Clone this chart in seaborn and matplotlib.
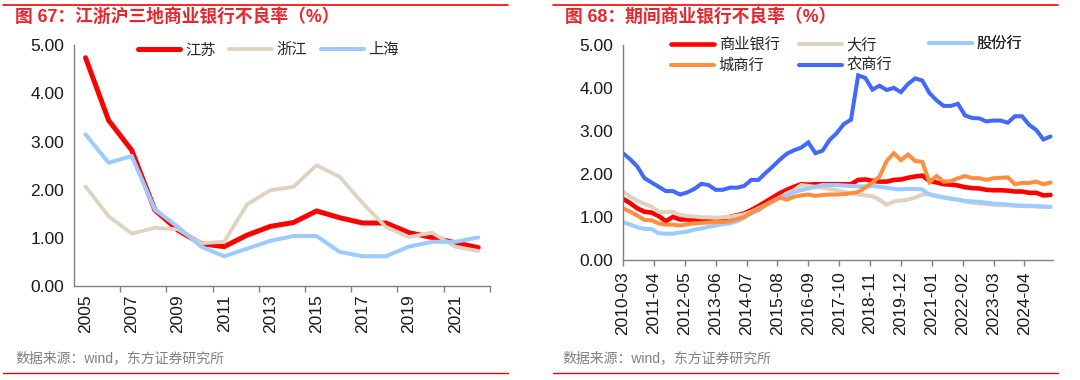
import numpy as np
import pandas as pd
import matplotlib
matplotlib.use("Agg")
import matplotlib.pyplot as plt
from matplotlib.lines import Line2D
import seaborn as sns

# ---------------- data: left chart ----------------
years = [str(y) for y in range(2005, 2023)]
jiangsu = [4.74, 3.44, 2.82, 1.58, 1.16, 0.88, 0.82, 1.06, 1.24, 1.32, 1.56, 1.42, 1.31, 1.31, 1.11, 1.01, 0.90, 0.80]
zhejiang = [2.07, 1.45, 1.09, 1.21, 1.18, 0.89, 0.92, 1.70, 1.99, 2.06, 2.51, 2.27, 1.72, 1.23, 1.02, 1.11, 0.82, 0.73]
shanghai = [3.15, 2.56, 2.70, 1.59, 1.23, 0.82, 0.62, 0.78, 0.94, 1.04, 1.04, 0.71, 0.62, 0.62, 0.82, 0.92, 0.92, 1.01]
left_names = ["江苏", "浙江", "上海"]

# ---------------- data: right chart (quarterly 2010Q1 - 2025Q1) ----------------
quarters = pd.period_range("2010Q1", "2025Q1", freq="Q")
commercial = [1.42, 1.32, 1.20, 1.12, 1.10, 1.02, 0.90, 1.00, 0.94, 0.94, 0.93, 0.93, 0.93, 0.94, 0.96, 1.00,
              1.04, 1.08, 1.16, 1.25, 1.35, 1.45, 1.55, 1.63, 1.70, 1.76, 1.75, 1.76, 1.76, 1.76, 1.76, 1.76,
              1.76, 1.86, 1.87, 1.84, 1.82, 1.82, 1.86, 1.87, 1.91, 1.94, 1.96, 1.84, 1.80, 1.76, 1.75, 1.73,
              1.69, 1.67, 1.66, 1.63, 1.62, 1.62, 1.61, 1.59, 1.59, 1.56, 1.56, 1.50, 1.51]
big = [1.59, 1.47, 1.38, 1.30, 1.24, 1.12, 1.11, 1.12, 1.05, 1.02, 1.01, 0.99, 0.99, 0.98, 0.99, 1.00,
       1.03, 1.06, 1.12, 1.20, 1.28, 1.37, 1.45, 1.55, 1.62, 1.74, 1.72, 1.70, 1.68, 1.65, 1.62, 1.58,
       1.55, 1.52, 1.50, 1.48, 1.40, 1.28, 1.36, 1.38, 1.40, 1.45, 1.52, 1.53, 1.50, 1.46, 1.44, 1.40,
       1.36, 1.33, 1.31, 1.30, 1.28, 1.27, 1.27, 1.26, 1.25, 1.25, 1.24, 1.24, 1.23]
joint = [0.88, 0.82, 0.76, 0.72, 0.72, 0.62, 0.61, 0.61, 0.64, 0.66, 0.70, 0.73, 0.77, 0.80, 0.83, 0.85,
         0.90, 0.98, 1.08, 1.15, 1.26, 1.36, 1.45, 1.50, 1.58, 1.62, 1.66, 1.70, 1.74, 1.74, 1.74, 1.73,
         1.72, 1.71, 1.71, 1.72, 1.70, 1.68, 1.65, 1.64, 1.65, 1.65, 1.64, 1.52, 1.48, 1.45, 1.42, 1.40,
         1.37, 1.36, 1.35, 1.33, 1.31, 1.30, 1.29, 1.27, 1.26, 1.26, 1.25, 1.24, 1.23]
city = [1.20, 1.12, 1.03, 0.93, 0.92, 0.85, 0.82, 0.82, 0.80, 0.83, 0.85, 0.86, 0.87, 0.88, 0.88, 0.90,
        0.95, 1.00, 1.10, 1.18, 1.28, 1.36, 1.45, 1.40, 1.47, 1.50, 1.52, 1.49, 1.51, 1.52, 1.52, 1.53,
        1.55, 1.58, 1.68, 1.80, 1.94, 2.30, 2.48, 2.32, 2.45, 2.30, 2.28, 1.81, 1.95, 1.82, 1.83, 1.90,
        1.95, 1.90, 1.90, 1.86, 1.90, 1.91, 1.92, 1.76, 1.79, 1.79, 1.82, 1.76, 1.80]
rural = [2.48, 2.34, 2.17, 1.90, 1.80, 1.70, 1.60, 1.60, 1.52, 1.57, 1.65, 1.77, 1.74, 1.63, 1.63, 1.68,
         1.68, 1.72, 1.86, 1.86, 2.02, 2.17, 2.33, 2.47, 2.55, 2.61, 2.73, 2.48, 2.54, 2.79, 2.95, 3.16,
         3.26, 4.29, 4.23, 3.96, 4.05, 3.95, 4.00, 3.90, 4.09, 4.22, 4.17, 3.88, 3.71, 3.58, 3.58, 3.63,
         3.36, 3.30, 3.29, 3.22, 3.24, 3.24, 3.19, 3.34, 3.34, 3.14, 3.02, 2.80, 2.87]
right_names = ["商业银行", "大行", "股份行", "城商行", "农商行"]
right_xticklabels = ["2010-03", "2011-04", "2012-05", "2013-06", "2014-07", "2015-08", "2016-09",
                     "2017-10", "2018-11", "2019-12", "2021-01", "2022-02", "2023-03", "2024-04"]

yticks = [0, 1, 2, 3, 4, 5]

# ---------------- style ----------------
sns.set_theme(style="white")
plt.rcParams["font.family"] = ["Liberation Sans", "Noto Sans CJK SC", "DejaVu Sans"]
plt.rcParams["axes.unicode_minus"] = False

RED = "#FF0000"
TAN = "#DDD3BE"
LBLUE = "#9DCBFF"
ORANGE = "#FF8F3F"
BLUE = "#4169FF"
AXC = "#808080"
TITLE_C = "#E8262B"

fig = plt.figure(figsize=(10.8, 3.8), dpi=100)


def style_axis(ax):
    for s in ["top", "right"]:
        ax.spines[s].set_visible(False)
    for s in ["left", "bottom"]:
        ax.spines[s].set_color(AXC)
        ax.spines[s].set_linewidth(1.0)
    ax.set_ylim(0, 5)
    ax.set_yticks(yticks)
    ax.set_yticklabels([f"{v:.2f}" for v in yticks], fontsize=12.5, color="#1a1a1a")
    ax.tick_params(axis="y", which="major", direction="out", length=4, width=1, color=AXC, pad=3)
    ax.set_xlabel("")
    ax.set_ylabel("")
    ax.grid(False)


# ---------------- left chart ----------------
ax1 = fig.add_axes([0.0685, 0.247, 0.385, 0.634])
xl = np.arange(len(years))
left_df = pd.DataFrame({"x": np.tile(xl, 3),
                        "v": jiangsu + zhejiang + shanghai,
                        "s": np.repeat(left_names, len(years))})
for name, color, lw in zip(left_names, [RED, TAN, LBLUE], [3.6, 2.7, 2.9]):
    d = left_df[left_df["s"] == name]
    sns.lineplot(data=d, x="x", y="v", color=color, linewidth=lw, label=name, ax=ax1,
                 solid_joinstyle="miter")
style_axis(ax1)
ax1.set_xlim(-0.5, len(years) - 0.5)
ax1.set_xticks(xl[::2])
ax1.set_xticklabels(years[::2], rotation=90, fontsize=12.5, color="#1a1a1a")
ax1.set_xticks(np.arange(1.5, len(years), 2), minor=True)
ax1.tick_params(axis="x", which="major", length=0, pad=6)
ax1.tick_params(axis="x", which="minor", direction="out", length=4, width=1, color=AXC, bottom=True)
h, l = ax1.get_legend_handles_labels()
ax1.legend(h, l, ncol=3, frameon=False, loc="upper left", bbox_to_anchor=(0.12, 1.065),
           handlelength=2.8, handletextpad=0.3, columnspacing=0.9, fontsize=11)

# ---------------- right chart ----------------
ax2 = fig.add_axes([0.5769, 0.316, 0.398, 0.566])
base = pd.Period("2010-03", freq="M")
xm = np.array([(q.asfreq("M", how="end") - base).n for q in quarters])
right_df = pd.DataFrame({"x": np.tile(xm, 5),
                         "v": commercial + big + joint + city + rural,
                         "s": np.repeat(right_names, len(quarters))})
for name, color, lw in zip(right_names, [RED, TAN, LBLUE, ORANGE, BLUE], [3.3, 2.9, 2.9, 2.9, 2.9]):
    d = right_df[right_df["s"] == name]
    sns.lineplot(data=d, x="x", y="v", color=color, linewidth=lw, label=name, ax=ax2,
                 solid_joinstyle="miter")
style_axis(ax2)
tick_pos = [(pd.Period(t, freq="M") - base).n for t in right_xticklabels]
ax2.set_xlim(0, xm[-1] + 1)
ax2.set_xticks(tick_pos)
ax2.set_xticklabels(right_xticklabels, rotation=90, fontsize=12.5, color="#1a1a1a")
ax2.tick_params(axis="x", which="major", direction="out", length=4, width=1, color=AXC, bottom=True, pad=4)
h, l = ax2.get_legend_handles_labels()
hd = dict(zip(l, h))
# three equal-width legend columns, filled row by row
col_groups = [["商业银行", "城商行"], ["大行", "农商行"], ["股份行"]]
col_x = [0.105, 0.403, 0.705]
for names, cx in zip(col_groups, col_x):
    lg = ax2.legend([hd[n] for n in names], names, ncol=1, frameon=False, loc="upper left",
                    bbox_to_anchor=(cx, 1.048), handlelength=2.8, handletextpad=0.3,
                    labelspacing=0.45, fontsize=11, borderaxespad=0, borderpad=0.2)
    ax2.add_artist(lg)

# ---------------- titles, sources, rules ----------------
fig.text(0.014, 0.955, "图 67：江浙沪三地商业银行不良率（%）", color=TITLE_C, fontsize=12.8,
         fontweight="bold", va="center", ha="left")
fig.text(0.523, 0.955, "图 68：期间商业银行不良率（%）", color=TITLE_C, fontsize=12.8,
         fontweight="bold", va="center", ha="left")
fig.text(0.014, 0.058, "数据来源：wind，东方证券研究所", color="#808080", fontsize=10, va="center", ha="left")
fig.text(0.521, 0.058, "数据来源：wind，东方证券研究所", color="#808080", fontsize=10, va="center", ha="left")
for x0, x1 in [(0.003, 0.470), (0.512, 0.98)]:
    fig.add_artist(Line2D([x0, x1], [0.987, 0.987], color=RED, linewidth=1.2, transform=fig.transFigure))
    fig.add_artist(Line2D([x0, x1], [0.018, 0.018], color=RED, linewidth=1.0, transform=fig.transFigure))

fig.savefig("out.png", dpi=100, facecolor="white")
